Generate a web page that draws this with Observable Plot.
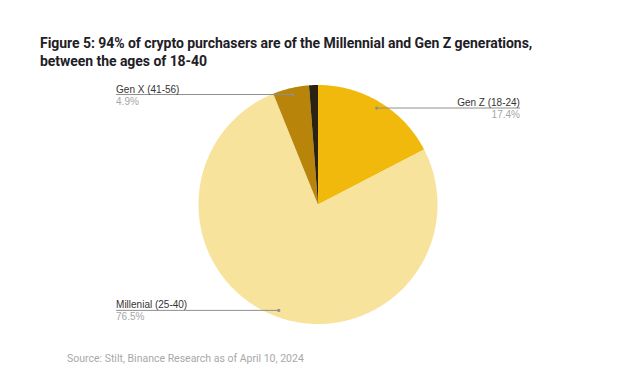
<!DOCTYPE html>
<html>
<head>
<meta charset="utf-8">
<script src="https://cdn.jsdelivr.net/npm/d3@7"></script>
<script src="https://cdn.jsdelivr.net/npm/@observablehq/plot@0.6"></script>
<style>
  html, body { margin: 0; padding: 0; background: #fff; }
  #wrap { position: relative; width: 640px; height: 378px; overflow: hidden; }
  #title { position: absolute; left: 40px; top: 34px; font-family: Roboto, "Noto Sans", sans-serif; font-weight: 700; font-size: 14px; line-height: 18px; color: #1e2026; letter-spacing: -0.05px; }
  #chart { position: absolute; left: 0; top: 78px; }
  #source { position: absolute; left: 67px; top: 352px; font-family: Roboto, "Noto Sans", sans-serif; font-size: 10.5px; color: #a8a8a8; }
</style>
</head>
<body>
<div id="wrap">
  <div id="title">Figure 5: 94% of crypto purchasers are of the Millennial and Gen Z generations,<br>between the ages of 18-40</div>
  <div id="chart"></div>
  <div id="source">Source: Stilt, Binance Research as of April 10, 2024</div>
</div>
<script>
// ---- data ----
const categories = ["Gen Z (18-24)", "Millenial (25-40)", "Gen X (41-56)", "Other"];
const shares = [17.4, 76.5, 4.9, 1.2];
const shareLabels = ["17.4%", "76.5%", "4.9%", ""];
const colors = ["#F0B90B", "#F8E39D", "#B8840A", "#2B2212"];
const labelSide = ["right", "left", "left", null];

// ---- layout ----
const W = 640, H = 262, cx = 317.5, cy = 126, R = 119.5;
const dotRadius = 0.945;   // leader dot position, fraction of radius
const labelX = 1.69;       // label x offset in radius units

const rows = categories.map((c, i) => ({category: c, share: shares[i], label: shareLabels[i], side: labelSide[i]}));
const arcs = d3.pie().sort(null).value(d => d.share)(rows);

// slice polygons
const poly = [];
arcs.forEach(a => {
  poly.push({category: a.data.category, x: 0, y: 0});
  const n = Math.max(4, Math.ceil((a.endAngle - a.startAngle) / (Math.PI / 360)));
  for (let k = 0; k <= n; k++) {
    const t = a.startAngle + (a.endAngle - a.startAngle) * k / n;
    poly.push({category: a.data.category, x: Math.sin(t), y: Math.cos(t)});
  }
});

// labels
const labels = arcs.filter(a => a.data.side).map(a => {
  const m = (a.startAngle + a.endAngle) / 2;
  const px = Math.sin(m) * dotRadius, py = Math.cos(m) * dotRadius;
  const lx = a.data.side === "left" ? -labelX : labelX;
  return {category: a.data.category, label: a.data.label, side: a.data.side, px, py, lx};
});
const leftLabels = labels.filter(d => d.side === "left");
const rightLabels = labels.filter(d => d.side === "right");

const textMarks = (data, anchor) => [
  Plot.text(data, {x: "lx", y: "py", text: "category", dy: -2, lineAnchor: "bottom",
    textAnchor: anchor, fill: "#333", fontSize: 10}),
  Plot.text(data, {x: "lx", y: "py", text: "label", dy: 3, lineAnchor: "top",
    textAnchor: anchor, fill: "#a6a6a6", fontSize: 10})
];

const chart = Plot.plot({
  width: W,
  height: H,
  margin: 0,
  x: {domain: [-1, 1], range: [cx - R, cx + R], axis: null},
  y: {domain: [-1, 1], range: [cy + R, cy - R], axis: null},
  color: {domain: categories, range: colors},
  style: {fontFamily: '"Liberation Sans", Arial, sans-serif'},
  marks: [
    Plot.line(poly, {x: "x", y: "y", z: "category", fill: "category", stroke: null, curve: "linear-closed"}),
    Plot.link(labels, {x1: "lx", y1: "py", x2: "px", y2: "py", stroke: "#8f8f8f", strokeWidth: 1}),
    Plot.dot(labels, {x: "px", y: "py", r: 1.6, fill: "#8f8f8f"}),
    ...textMarks(leftLabels, "start"),
    ...textMarks(rightLabels, "end")
  ]
});
document.getElementById("chart").append(chart);
</script>
</body>
</html>
